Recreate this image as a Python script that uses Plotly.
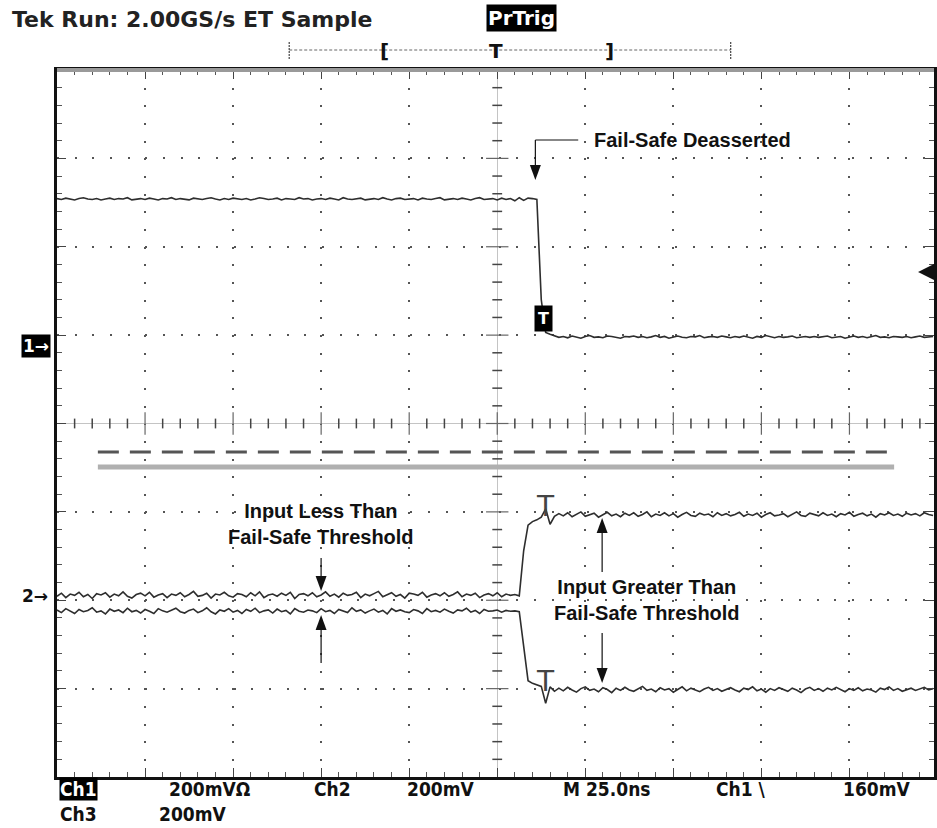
import numpy as np
import plotly.graph_objects as go

# ---------------- data ----------------
SAMPLE_NS = 1.25          # sample clock of the displayed record
T_START_NS = -125.0       # left edge of the screen
MV_PER_DIV = 200          # Ch1 / Ch2 / Ch3 : 200 mV/div
NS_PER_DIV = 25           # M 25.0ns

# Ch1 : fail-safe output (mV relative to its ground marker)
ch1_mv = [
    329, 327, 330, 328, 326, 329, 331, 328, 327, 329, 326, 328, 330, 327, 329, 328, 331, 326, 328, 329,
    327, 330, 328, 326, 329, 328, 331, 327, 329, 328, 326, 330, 328, 327, 329, 331, 328, 326, 329, 327,
    330, 328, 327, 329, 326, 328, 331, 329, 327, 328, 330, 326, 329, 328, 327, 331, 328, 329, 326, 328,
    329, 327, 330, 328, 326, 331, 328, 327, 329, 330, 326, 328, 329, 327, 331, 328, 326, 329, 330, 327,
    328, 329, 326, 330, 328, 327, 329, 331, 326, 328, 329, 327, 330, 328, 326, 329, 331, 327, 328, 329,
    326, 330, 327, 329, 324, 331, 325, 330, 329, 327,
    100, 26,
    22, 18, 15, 17, 14, 18, 16, 13, 17, 19, 15, 16, 14, 18, 17, 15, 13, 17, 16, 18,
    15, 17, 14, 16, 19, 15, 17, 13, 16, 18, 15, 14, 17, 16, 19, 14, 16, 17, 15, 18,
    16, 14, 17, 15, 18, 16, 13, 17, 15, 19, 16, 14, 17, 15, 16, 18, 14, 16, 17, 15,
    17, 15, 16, 18, 14, 16, 17, 13, 16, 18, 15, 17, 14, 16, 19, 15, 16, 14, 17, 16,
    15, 17, 14, 16, 18, 15, 16, 17,
]

# Ch2 : input A (mV relative to the "2" ground marker)
ch2_mv = [
    -3, 4, -6, 2, -1, 6, -4, 1, -8, 3, 0, 5, -5, 2, -2, 7, -3, -7, 1, 4,
    -2, 6, -5, 0, 3, -6, 2, -1, 5, -4, 1, 8, -3, -1, 4, -7, 2, 0, 6, -2,
    -5, 3, 1, -4, 5, -2, 7, -6, 0, 2, -3, 4, -1, 6, -8, 1, 3, -2, 5, -4,
    0, 7, -3, 2, -5, 4, -1, 1, 6, -6, 2, -2, 3, 8, -4, 0, 5, -3, 1, -7,
    4, 2, -1, 6, -5, 0, 3, -2, 5, -3, 1, 7, -4, 2, -1, 4, -6, 0, 3, -2,
    5, -4, 2, -1, 1,
    -2, 100, 158, 166, 170, 176, 195, 160, 178,
    184, 179, 186, 177, 183, 188, 178, 182, 185, 176, 181, 187, 179, 183, 177, 185, 180, 186, 178, 182,
    188, 177, 183, 180, 186, 179, 184, 176, 182, 187, 180, 178, 185, 181, 183, 177, 186, 180, 184, 179,
    182, 187, 178, 183, 180, 185, 176, 182, 186, 179, 181, 184, 177, 183, 188, 180, 178, 185, 182, 179,
    186, 180, 183, 177, 184, 181, 187, 178, 182, 185, 179, 183, 176, 184, 181, 186, 180, 183, 178, 185,
    181, 184, 179, 186, 182, 180,
]

# Ch3 : input B (mV relative to the "2" ground marker)
ch3_mv = [
    -34, -40, -31, -37, -42, -33, -38, -35, -29, -39, -36, -43, -32, -37, -34, -40, -30, -38, -35, -41,
    -33, -37, -42, -31, -36, -39, -34, -30, -38, -41, -35, -32, -40, -36, -29, -38, -43, -34, -37, -31,
    -39, -35, -42, -33, -37, -30, -40, -36, -34, -41, -32, -38, -35, -43, -31, -37, -39, -34, -36, -40,
    -31, -38, -35, -42, -33, -36, -40, -29, -37, -34, -41, -36, -32, -39, -35, -43, -31, -37, -34, -38,
    -40, -33, -36, -42, -31, -38, -35, -39, -32, -37, -41, -34, -36, -30, -39, -35, -42, -33, -37, -36,
    -34, -39, -35, -37, -36,
    -38, -120, -194, -200, -204, -207, -245, -208, -218,
    -211, -217, -209, -215, -220, -212, -208, -216, -213, -219, -210, -214, -221, -211, -216, -209, -215, -218, -212, -207,
    -216, -213, -219, -210, -215, -212, -220, -214, -208, -217, -211, -215, -219, -213, -209, -216, -212, -218, -214, -210,
    -215, -219, -211, -214, -208, -217, -213, -220, -212, -216, -210, -214, -218, -211, -215, -221, -213, -209, -216, -212,
    -218, -211, -215, -209, -214, -219, -212, -216, -210, -217, -213, -215, -220, -211, -214, -208, -216, -212, -218, -214,
    -211, -216, -213, -209, -215, -212,
]

header_text = "Tek Run: 2.00GS/s ET Sample"
# (text, centre x in px, boxed)
bottom_row1 = [("Ch1", 79, True), ("200mVΩ", 211, False), ("Ch2", 333, False), ("200mV", 442, False),
               ("M 25.0ns", 609, False), ("Ch1 \\", 743, False), ("160mV", 879, False)]
bottom_row2 = [("Ch3", 79, False), ("200mV", 193, False)]

# ---------------- layout geometry ----------------
W, H = 937, 828
ML, MT, MB, MR = 57, 70, 51, 0
PW, PH = W - ML - MR, H - MT - MB
DIV_X = 88.35
X_MIN = -125.0
X_MAX = X_MIN + PW / DIV_X * NS_PER_DIV
CH1_GND = 0.90     # divisions from centre
CH2_GND = -1.94

def fx(px):
    return (px - ML) / PW

def fy(py):
    return (H - MB - py) / PH

n = len(ch1_mv)
t_ns = T_START_NS + SAMPLE_NS * np.arange(n)
y1 = CH1_GND + np.array(ch1_mv) / MV_PER_DIV
y2 = CH2_GND + np.array(ch2_mv) / MV_PER_DIV
y3 = CH2_GND + np.array(ch3_mv) / MV_PER_DIV

fig = go.Figure()

# centre crosshair tick marks (graticule)
xt = np.arange(-120, 125, 5)
xt = xt[xt % 25 != 0]
yt = np.round(np.arange(-3.8, 4.0, 0.2), 3)
yt = yt[np.abs(yt - np.round(yt)) > 1e-6]
fig.add_trace(go.Scatter(x=xt, y=np.zeros_like(xt, dtype=float), mode="markers",
                         marker=dict(symbol="line-ns", size=7, line=dict(color="#444", width=1.5)),
                         hoverinfo="skip", showlegend=False))
fig.add_trace(go.Scatter(x=np.zeros_like(yt), y=yt, mode="markers",
                         marker=dict(symbol="line-ew", size=7, line=dict(color="#444", width=1.5)),
                         hoverinfo="skip", showlegend=False))
xm = np.arange(-100, 125, 25)
ym = np.arange(-3, 4, 1)
fig.add_trace(go.Scatter(x=xm, y=np.zeros_like(xm, dtype=float), mode="markers",
                         marker=dict(symbol="line-ns", size=16, line=dict(color="#666", width=1.2)),
                         hoverinfo="skip", showlegend=False))
fig.add_trace(go.Scatter(x=np.zeros_like(ym, dtype=float), y=ym, mode="markers",
                         marker=dict(symbol="line-ew", size=16, line=dict(color="#666", width=1.2)),
                         hoverinfo="skip", showlegend=False))

trace_style = dict(color="#2e2e2e", width=1.6)
for yy in (y1, y2, y3):
    fig.add_trace(go.Scatter(x=t_ns, y=yy, mode="lines", line=trace_style,
                             hoverinfo="skip", showlegend=False))

shapes = []
annotations = []

# top border (gray)
shapes.append(dict(type="line", xref="paper", yref="paper", x0=0, x1=1, y0=1, y1=1,
                   line=dict(color="#9a9a9a", width=4)))

# cursor lines
shapes.append(dict(type="line", xref="paper", yref="paper", x0=fx(98), x1=fx(897), y0=fy(452), y1=fy(452),
                   line=dict(color="#555", width=3, dash="21px,11px")))
shapes.append(dict(type="line", xref="paper", yref="paper", x0=fx(98), x1=fx(897), y0=fy(467), y1=fy(467),
                   line=dict(color="#b0b0b0", width=5)))

# record bar at top
shapes.append(dict(type="line", xref="paper", yref="paper", x0=fx(290), x1=fx(733), y0=fy(50), y1=fy(50),
                   line=dict(color="#666", width=1, dash="3px,2px")))
for xp in (290, 733):
    shapes.append(dict(type="line", xref="paper", yref="paper", x0=fx(xp), x1=fx(xp), y0=fy(42), y1=fy(59),
                       line=dict(color="#444", width=1.2, dash="2px,1px")))
for txt, xp in (("[", 386), ("T", 498), ("]", 611)):
    annotations.append(dict(text=txt, x=fx(xp), y=fy(51), xref="paper", yref="paper", showarrow=False,
                            xanchor="center", yanchor="middle",
                            font=dict(family="DejaVu Sans", size=20, color="#111", weight="bold")))

# trigger level arrow on right edge
shapes.append(dict(type="path", xref="paper", yref="paper",
                   path=f"M{fx(921)},{fy(272)} L{fx(937)},{fy(264)} L{fx(937)},{fy(280)} Z",
                   fillcolor="#111", line=dict(width=0)))

def arrow(xp, y_tail, y_tip):
    head = 15 if y_tip > y_tail else -15
    shapes.append(dict(type="line", xref="paper", yref="paper", x0=fx(xp), x1=fx(xp),
                       y0=fy(y_tail), y1=fy(y_tip - head * 0.6), line=dict(color="#111", width=1.2)))
    shapes.append(dict(type="path", xref="paper", yref="paper",
                       path=f"M{fx(xp)},{fy(y_tip)} L{fx(xp - 5.5)},{fy(y_tip - head)} "
                            f"L{fx(xp + 5.5)},{fy(y_tip - head)} Z",
                       fillcolor="#111", line=dict(width=0)))

# Fail-safe deasserted callout
shapes.append(dict(type="line", xref="paper", yref="paper", x0=fx(537), x1=fx(580), y0=fy(140), y1=fy(140),
                   line=dict(color="#111", width=1.2)))
arrow(537, 140, 180)
arrow(322, 558, 591)
arrow(322, 663, 615)
arrow(604, 572, 518)
arrow(604, 633, 683)

lab_font = dict(family="Liberation Sans, Arial, sans-serif", size=20, color="#111", weight="bold")
annotations.append(dict(text="Fail-Safe Deasserted", x=fx(594), y=fy(140), xref="paper", yref="paper",
                        showarrow=False, xanchor="left", yanchor="middle", font=lab_font))
annotations.append(dict(text="Input Less Than<br>Fail-Safe Threshold", x=fx(322), y=fy(524),
                        xref="paper", yref="paper", showarrow=False, xanchor="center", yanchor="middle",
                        font=lab_font))
annotations.append(dict(text="Input Greater Than<br>Fail-Safe Threshold", x=fx(649), y=fy(600),
                        xref="paper", yref="paper", showarrow=False, xanchor="center", yanchor="middle",
                        font=lab_font))

# trigger "T" markers on the traces
annotations.append(dict(text="T", x=fx(545), y=fy(318), xref="paper", yref="paper", showarrow=False,
                        xanchor="center", yanchor="middle", bgcolor="#000", borderpad=3,
                        font=dict(family="DejaVu Sans", size=16, color="#fff", weight="bold")))
for yp in (506, 681):
    annotations.append(dict(text="T", x=fx(547), y=fy(yp), xref="paper", yref="paper", showarrow=False,
                            xanchor="center", yanchor="middle",
                            font=dict(family="DejaVu Sans", size=28, color="#444")))

# channel ground markers
annotations.append(dict(text="1→", x=fx(36), y=fy(346), xref="paper", yref="paper", showarrow=False,
                        xanchor="center", yanchor="middle", bgcolor="#000", borderpad=1,
                        font=dict(family="DejaVu Sans", size=17, color="#fff", weight="bold")))
annotations.append(dict(text="2→", x=fx(35), y=fy(596), xref="paper", yref="paper", showarrow=False,
                        xanchor="center", yanchor="middle",
                        font=dict(family="DejaVu Sans", size=17, color="#111", weight="bold")))

# header
annotations.append(dict(text=header_text, x=fx(10), y=fy(19), xref="paper", yref="paper", showarrow=False,
                        xanchor="left", yanchor="middle",
                        font=dict(family="DejaVu Sans", size=22, color="#222", weight="bold")))
annotations.append(dict(text="PrTrig", x=fx(487), y=fy(18), xref="paper", yref="paper", showarrow=False,
                        xanchor="left", yanchor="middle", bgcolor="#000", borderpad=1,
                        font=dict(family="DejaVu Sans", size=20, color="#fff", weight="bold")))

# bottom status lines
bot_font = dict(family="DejaVu Sans Condensed, DejaVu Sans", size=19, color="#111", weight="bold")
for txt, xp, boxed in bottom_row1:
    f = dict(bot_font)
    a = dict(text=txt, x=fx(xp), y=fy(789), xref="paper", yref="paper", showarrow=False,
             xanchor="center", yanchor="middle", font=f)
    if boxed:
        f["color"] = "#fff"
        a["bgcolor"] = "#000"
        a["borderpad"] = 0
    annotations.append(a)
for txt, xp, boxed in bottom_row2:
    annotations.append(dict(text=txt, x=fx(xp), y=fy(814), xref="paper", yref="paper", showarrow=False,
                            xanchor="center", yanchor="middle", font=bot_font))

grid_dash = "2px,15.67px"
fig.update_layout(
    width=W, height=H,
    margin=dict(l=ML, r=MR, t=MT, b=MB, pad=0),
    paper_bgcolor="#fff", plot_bgcolor="#fff",
    showlegend=False,
    shapes=shapes, annotations=annotations,
    xaxis=dict(range=[X_MIN, X_MAX], dtick=25, tick0=-125, showticklabels=False,
               showgrid=True, gridcolor="#555", gridwidth=1.5, griddash=grid_dash,
               zeroline=True, zerolinecolor="#c4c4c4", zerolinewidth=1,
               showline=True, linecolor="#111", linewidth=3, mirror="ticks",
               ticks="inside", ticklen=9, tickcolor="#444", tickwidth=1.2,
               minor=dict(dtick=5, tick0=-125, ticks="inside", ticklen=5, tickcolor="#555", tickwidth=1.2,
                          showgrid=False),
               fixedrange=True),
    yaxis=dict(range=[-4, 4], dtick=1, tick0=-4, showticklabels=False,
               showgrid=True, gridcolor="#555", gridwidth=1.5, griddash=grid_dash,
               zeroline=True, zerolinecolor="#c4c4c4", zerolinewidth=1,
               showline=True, linecolor="#111", linewidth=3, mirror="ticks",
               ticks="inside", ticklen=9, tickcolor="#444", tickwidth=1.2,
               minor=dict(dtick=0.2, tick0=-4, ticks="inside", ticklen=5, tickcolor="#555", tickwidth=1.2,
                          showgrid=False),
               fixedrange=True),
)

fig.write_html("out.html")
